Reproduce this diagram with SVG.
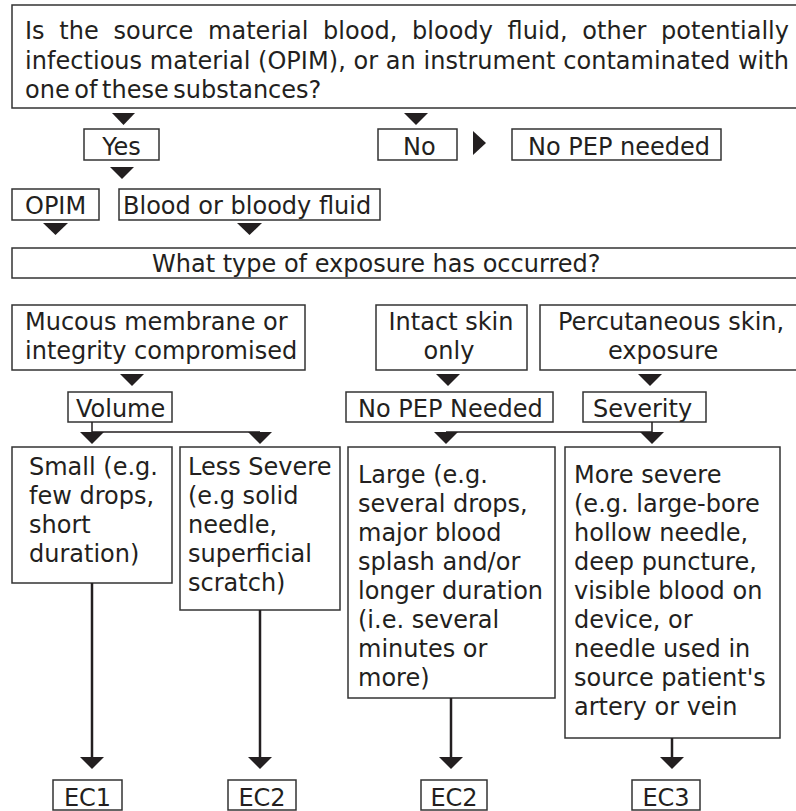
<svg xmlns="http://www.w3.org/2000/svg" width="796" height="811" viewBox="0 0 796 811">
  <style>
    .box { fill: #ffffff; stroke: #333333; stroke-width: 1.5; }
    .lbl { font-family: "DejaVu Sans", Verdana, sans-serif; font-size: 24px; fill: #231f20; }
    .mid { text-anchor: middle; }
    .tri { fill: #231f20; stroke: none; }
    .stem { stroke: #231f20; stroke-width: 2.5; fill: none; }
    .link { stroke: #231f20; stroke-width: 1.5; fill: none; }
  </style>
  <rect x="0" y="0" width="796" height="811" fill="#ffffff"/>

  <g id="question">
    <rect class="box" x="12" y="5" width="800" height="103"/>
    <text class="lbl" x="25" y="39" word-spacing="7" textLength="764" lengthAdjust="spacing">Is the source material blood, bloody fluid, other potentially</text>
    <text class="lbl" x="25" y="69" textLength="764" lengthAdjust="spacing">infectious material (OPIM), or an instrument contaminated with</text>
    <text class="lbl" x="25" y="98" word-spacing="-3">one of these substances?</text>
  </g>

  <g id="yes">
    <rect class="box" x="84" y="129" width="75" height="31"/>
    <text class="lbl mid" x="121.5" y="155">Yes</text>
  </g>

  <g id="no">
    <rect class="box" x="378" y="129" width="79" height="31"/>
    <text class="lbl" x="403" y="155">No</text>
  </g>

  <g id="no-pep">
    <rect class="box" x="512" y="129" width="209" height="31"/>
    <text class="lbl" x="528" y="155">No PEP needed</text>
  </g>

  <g id="opim">
    <rect class="box" x="12" y="189" width="87" height="31"/>
    <text class="lbl" x="25" y="214">OPIM</text>
  </g>

  <g id="blood">
    <rect class="box" x="119" y="189" width="261" height="31"/>
    <text class="lbl" x="123" y="214">Blood or bloody fluid</text>
  </g>

  <g id="exposure-type">
    <rect class="box" x="12" y="248" width="800" height="30"/>
    <text class="lbl" x="152" y="272">What type of exposure has occurred?</text>
  </g>

  <g id="mucous">
    <rect class="box" x="12" y="305" width="293" height="65"/>
    <text class="lbl" x="25" y="330">Mucous membrane or</text>
    <text class="lbl" x="25" y="359">integrity compromised</text>
  </g>

  <g id="intact">
    <rect class="box" x="376" y="305" width="151" height="65"/>
    <text class="lbl mid" x="451" y="330">Intact skin</text>
    <text class="lbl mid" x="449" y="359">only</text>
  </g>

  <g id="percutaneous">
    <rect class="box" x="540" y="305" width="272" height="65"/>
    <text class="lbl" x="558" y="330">Percutaneous skin,</text>
    <text class="lbl" x="608" y="359">exposure</text>
  </g>

  <g id="volume">
    <rect class="box" x="68" y="392" width="104" height="30"/>
    <text class="lbl" x="76" y="417">Volume</text>
  </g>

  <g id="no-pep-needed">
    <rect class="box" x="346" y="392" width="207" height="30"/>
    <text class="lbl" x="358" y="417">No PEP Needed</text>
  </g>

  <g id="severity">
    <rect class="box" x="583" y="392" width="123" height="30"/>
    <text class="lbl" x="593" y="417">Severity</text>
  </g>

  <g id="small">
    <rect class="box" x="12" y="447" width="160" height="136"/>
    <text class="lbl" x="29" y="475">Small (e.g.</text>
    <text class="lbl" x="29" y="504">few drops,</text>
    <text class="lbl" x="29" y="533">short</text>
    <text class="lbl" x="29" y="562">duration)</text>
  </g>

  <g id="less-severe">
    <rect class="box" x="180" y="447" width="160" height="163"/>
    <text class="lbl" x="188" y="475">Less Severe</text>
    <text class="lbl" x="188" y="504">(e.g solid</text>
    <text class="lbl" x="188" y="533">needle,</text>
    <text class="lbl" x="188" y="562">superficial</text>
    <text class="lbl" x="188" y="591">scratch)</text>
  </g>

  <g id="large">
    <rect class="box" x="348" y="447" width="207" height="251"/>
    <text class="lbl" x="358" y="483">Large (e.g.</text>
    <text class="lbl" x="358" y="512">several drops,</text>
    <text class="lbl" x="358" y="541">major blood</text>
    <text class="lbl" x="358" y="570">splash and/or</text>
    <text class="lbl" x="358" y="599">longer duration</text>
    <text class="lbl" x="358" y="628">(i.e. several</text>
    <text class="lbl" x="358" y="657">minutes or</text>
    <text class="lbl" x="358" y="686">more)</text>
  </g>

  <g id="more-severe">
    <rect class="box" x="565" y="447" width="215" height="291"/>
    <text class="lbl" x="574" y="483">More severe</text>
    <text class="lbl" x="574" y="512">(e.g. large-bore</text>
    <text class="lbl" x="574" y="541">hollow needle,</text>
    <text class="lbl" x="574" y="570">deep puncture,</text>
    <text class="lbl" x="574" y="599">visible blood on</text>
    <text class="lbl" x="574" y="628">device, or</text>
    <text class="lbl" x="574" y="657">needle used in</text>
    <text class="lbl" x="574" y="686">source patient's</text>
    <text class="lbl" x="574" y="715">artery or vein</text>
  </g>

  <g id="ec1">
    <rect class="box" x="53" y="780" width="69" height="30"/>
    <text class="lbl mid" x="87.5" y="806">EC1</text>
  </g>

  <g id="ec2-a">
    <rect class="box" x="228" y="780" width="68" height="30"/>
    <text class="lbl mid" x="262" y="806">EC2</text>
  </g>

  <g id="ec2-b">
    <rect class="box" x="421" y="780" width="66" height="30"/>
    <text class="lbl mid" x="454" y="806">EC2</text>
  </g>

  <g id="ec3">
    <rect class="box" x="632" y="780" width="68" height="30"/>
    <text class="lbl mid" x="666" y="806">EC3</text>
  </g>

  <g id="connectors">
    <!-- question -> yes / no -->
    <path class="tri" d="M112,113 L135,113 L123.5,125 Z"/>
    <path class="tri" d="M404,113 L428,113 L416,125 Z"/>
    <!-- no -> no PEP needed -->
    <path class="tri" d="M473,131 L486,143 L473,155 Z"/>
    <!-- yes -> opim / blood -->
    <path class="tri" d="M110,167 L134,167 L122,179 Z"/>
    <!-- opim, blood -> exposure type -->
    <path class="tri" d="M43,223 L68,223 L55.5,235 Z"/>
    <path class="tri" d="M237,223 L262,223 L249.5,235 Z"/>
    <!-- exposure categories -> next step -->
    <path class="tri" d="M120,374 L144,374 L132,386 Z"/>
    <path class="tri" d="M436,374 L460,374 L448,386 Z"/>
    <path class="tri" d="M638,374 L662,374 L650,386 Z"/>
    <!-- volume branch -->
    <path class="link" d="M92,422 V432 H260"/>
    <path class="tri" d="M80,432 L104,432 L92,444 Z"/>
    <path class="tri" d="M248,432 L272,432 L260,444 Z"/>
    <!-- severity branch -->
    <path class="link" d="M652,422 V432 H446"/>
    <path class="tri" d="M434,432 L458,432 L446,444 Z"/>
    <path class="tri" d="M640,432 L664,432 L652,444 Z"/>
    <!-- outcomes -> exposure codes -->
    <path class="stem" d="M92,583 V758"/>
    <path class="tri" d="M80,757 L104,757 L92,769 Z"/>
    <path class="stem" d="M260,610 V758"/>
    <path class="tri" d="M248,757 L272,757 L260,769 Z"/>
    <path class="stem" d="M451,698 V758"/>
    <path class="tri" d="M439,757 L463,757 L451,769 Z"/>
    <path class="stem" d="M672,738 V758"/>
    <path class="tri" d="M660,757 L684,757 L672,769 Z"/>
  </g>
</svg>
